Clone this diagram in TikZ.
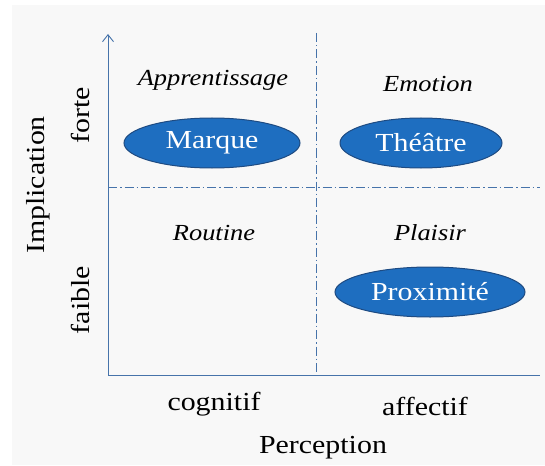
\documentclass[tikz,border=0pt]{standalone}
\usepackage{fontspec}
\setmainfont[FakeStretch=1.15]{Liberation Serif}
\usetikzlibrary{arrows.meta,shapes.geometric}
\definecolor{axisblue}{RGB}{70,115,170}
\definecolor{ellfill}{RGB}{30,110,192}
\definecolor{elldraw}{RGB}{30,75,130}
\definecolor{bggray}{RGB}{248,248,248}
\tikzset{
  axisline/.style={draw=axisblue, line width=0.9pt},
  divline/.style={draw=axisblue, line width=0.8pt, dash pattern=on 9pt off 3pt on 1.5pt off 3pt},
  oval/.style={ellipse, fill=ellfill, draw=elldraw, line width=1pt, inner sep=0pt, minimum height=50pt, text=white, font=\fontsize{26}{30}\selectfont},
  quad/.style={font=\itshape\fontsize{23}{27}\selectfont},
  lab/.style={font=\fontsize{26}{30}\selectfont},
}
\begin{document}
\begin{tikzpicture}[x=1pt,y=-1pt]
\useasboundingbox (0,0) rectangle (545,465);
\fill[bggray] (12,5) rectangle (545,465);
% axes
\coordinate (o) at (108,375);
\coordinate (ytop) at (108,34);
\coordinate (xend) at (540,375);
\draw[axisline, -{Straight Barb[length=7pt,width=11pt]}] (o) -- (ytop);
\draw[axisline] (o) -- (xend);
% dividers
\coordinate (vtop) at (316,33);
\coordinate (vbot) at (316,375);
\coordinate (hl) at (108,187);
\coordinate (hr) at (540,187);
\draw[divline] (vtop) -- (vbot);
\draw[divline] (hl) -- (hr);
% quadrant labels
\node[quad] (appr) at (213,80) {Apprentissage};
\node[quad] (emo) at (428,84) {Emotion};
\node[quad] (rout) at (214,233) {Routine};
\node[quad] (plai) at (430,233) {Plaisir};
% ellipses
\node[oval, minimum width=176pt] (marque) at (212,143) {Marque};
\node[oval, minimum width=162pt] (theatre) at (421,143) {Théâtre};
\node[oval, minimum width=190pt] (prox) at (430,292) {Proximité};
% axis labels
\node[lab] (cog) at (214,404) {cognitif};
\node[lab] (aff) at (425,406) {affectif};
\node[lab] (perc) at (323,448) {Perception};
\node[lab, rotate=90] (impl) at (38,185) {Implication};
\node[lab, rotate=90] (forte) at (80,115) {forte};
\node[lab, rotate=90] (faible) at (80,300) {faible};
\end{tikzpicture}
\end{document}
